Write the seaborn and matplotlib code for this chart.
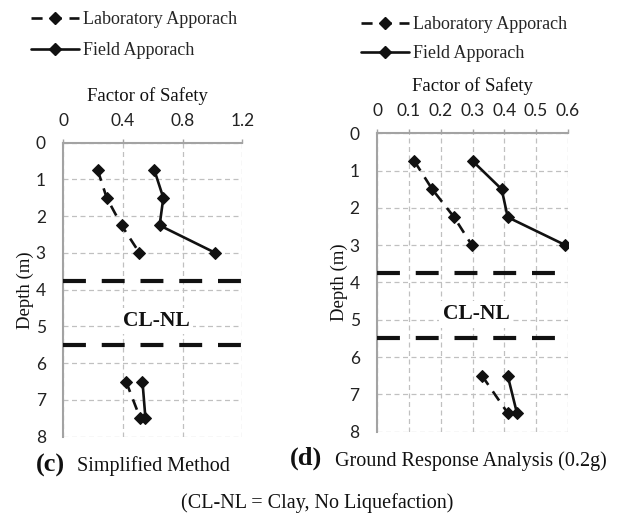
import matplotlib
matplotlib.use("Agg")
import matplotlib.pyplot as plt
from matplotlib.lines import Line2D
import seaborn as sns
import pandas as pd

# ---------------- data ----------------
depth_upper = [0.75, 1.5, 2.25, 3.0]
depth_lower = [6.5, 7.5]

# (c) Simplified Method
c_lab_upper = [0.23, 0.29, 0.39, 0.51]
c_field_upper = [0.61, 0.67, 0.645, 1.02]
c_lab_lower = [0.42, 0.515]
c_field_lower = [0.53, 0.55]

# (d) Ground Response Analysis (0.2g)
d_lab_upper = [0.117, 0.173, 0.242, 0.298]
d_field_upper = [0.301, 0.392, 0.411, 0.593]
d_lab_lower = [0.33, 0.411]
d_field_lower = [0.411, 0.44]

boundary_depths = [3.75, 5.5]
depth_ticks = [0, 1, 2, 3, 4, 5, 6, 7, 8]
c_xticks = [0, 0.4, 0.8, 1.2]
c_xticklabels = ["0", "0.4", "0.8", "1.2"]
d_xticks = [0, 0.1, 0.2, 0.3, 0.4, 0.5, 0.6]
d_xticklabels = ["0", "0.1", "0.2", "0.3", "0.4", "0.5", "0.6"]

lab_name = "Laboratory Apporach"
field_name = "Field Apporach"
layer_label = "CL-NL"
xlabel = "Factor of Safety"
ylabel = "Depth (m)"


def build(lab_u, field_u, lab_l, field_l):
    rows = []
    for seg, (lab, fld, dep) in enumerate([(lab_u, field_u, depth_upper),
                                           (lab_l, field_l, depth_lower)]):
        for v, d in zip(lab, dep):
            rows.append(dict(fs=v, depth=d, approach="Lab", unit=f"Lab{seg}"))
        for v, d in zip(fld, dep):
            rows.append(dict(fs=v, depth=d, approach="Field", unit=f"Field{seg}"))
    return pd.DataFrame(rows)


sns.set_theme(style="white")
SERIF = ["Liberation Serif", "DejaVu Serif"]
SANS = ["Lato", "DejaVu Sans"]
plt.rcParams["font.family"] = SERIF

INK = "#111111"
GRID = "#c0c0c0"
SPINE = "#a3a3a3"
LAB_DASH = (4.2, 3.0)

fig = plt.figure(figsize=(6.38, 5.15), dpi=100)
ax_c = fig.add_axes([0.0995, 0.152, 0.2803, 0.5709])
ax_d = fig.add_axes([0.5914, 0.1618, 0.2984, 0.5794])

panels = [
    (ax_c, build(c_lab_upper, c_field_upper, c_lab_lower, c_field_lower),
     (0, 1.2), c_xticks, c_xticklabels),
    (ax_d, build(d_lab_upper, d_field_upper, d_lab_lower, d_field_lower),
     (0, 0.6), d_xticks, d_xticklabels),
]

for ax, df, xlim, xt, xtl in panels:
    sns.lineplot(data=df, x="fs", y="depth", style="approach", units="unit",
                 estimator=None, sort=False, ax=ax, color=INK,
                 markers={"Lab": "D", "Field": "D"},
                 dashes={"Lab": LAB_DASH, "Field": ""},
                 linewidth=1.9, markersize=6.5, markeredgecolor=INK,
                 legend=False, zorder=4)
    for bd in boundary_depths:
        ax.axhline(bd, color=INK, lw=3.0, dashes=(5.5, 3.8), zorder=3)
    ax.set_xlim(*xlim)
    ax.set_ylim(8, 0)
    ax.set_xticks(xt)
    ax.set_xticklabels(xtl)
    ax.set_yticks(depth_ticks)
    ax.xaxis.tick_top()
    ax.xaxis.set_label_position("top")
    ax.grid(True, color=GRID, lw=0.9, ls=(0, (4.0, 2.8)))
    ax.set_axisbelow(True)
    for s in ["right", "bottom"]:
        ax.spines[s].set_visible(False)
    for s in ["left", "top"]:
        ax.spines[s].set_color(SPINE)
        ax.spines[s].set_linewidth(1.5)
    ax.tick_params(axis="both", which="both", direction="out", length=3.2,
                   width=1.0, color=SPINE, labelsize=12.5, labelcolor="#222222")
    ax.tick_params(axis="x", pad=7)
    ax.tick_params(axis="y", pad=9.5)
    for lab in ax.get_xticklabels() + ax.get_yticklabels():
        lab.set_fontfamily(SANS)
    ax.set_ylabel(ylabel, fontsize=13.5, color="#111111", labelpad=1)
    ax.text(0.52, 4.85, layer_label, transform=ax.get_yaxis_transform(),
            ha="center", va="center", fontsize=15.5, fontweight="bold",
            color=INK, zorder=5,
            bbox=dict(facecolor="white", edgecolor="none", pad=2.5))

ax_c.set_xlabel(xlabel, fontsize=13.5, labelpad=8, color="#111111")
ax_c.xaxis.label.set_x(0.47)
ax_d.set_xlabel(xlabel, fontsize=13.5, labelpad=8.5, color="#111111")

# legends
handles = [
    Line2D([], [], color=INK, lw=1.9, dashes=LAB_DASH, marker="D",
           markersize=6.5, markeredgecolor=INK),
    Line2D([], [], color=INK, lw=1.9, marker="D", markersize=6.5,
           markeredgecolor=INK),
]
for anchor, spacing in [((31 / 638, 1 - 11 / 515), 0.78), ((361 / 638, 1 - 16 / 515), 0.66)]:
    fig.legend(handles, [lab_name, field_name], loc="upper left",
               bbox_to_anchor=anchor, bbox_transform=fig.transFigure,
               frameon=False, fontsize=13, handlelength=2.65,
               handletextpad=0.25, labelspacing=spacing, borderpad=0,
               borderaxespad=0, markerfirst=True)

# captions
fig.text(36 / 638, 1 - 465 / 515, "(c)", fontsize=19, fontweight="bold",
         va="center", ha="left", color=INK)
fig.text(77 / 638, 1 - 466 / 515, "Simplified Method", fontsize=14.5,
         va="center", ha="left", color=INK)
fig.text(290 / 638, 1 - 458 / 515, "(d)", fontsize=19, fontweight="bold",
         va="center", ha="left", color=INK)
fig.text(335 / 638, 1 - 461 / 515, "Ground Response Analysis (0.2g)",
         fontsize=14.5, va="center", ha="left", color=INK)
fig.text(317 / 638, 1 - 503 / 515, "(CL-NL = Clay, No Liquefaction)",
         fontsize=14.5, va="center", ha="center", color=INK)

fig.savefig("out.png", dpi=100, facecolor="white")
